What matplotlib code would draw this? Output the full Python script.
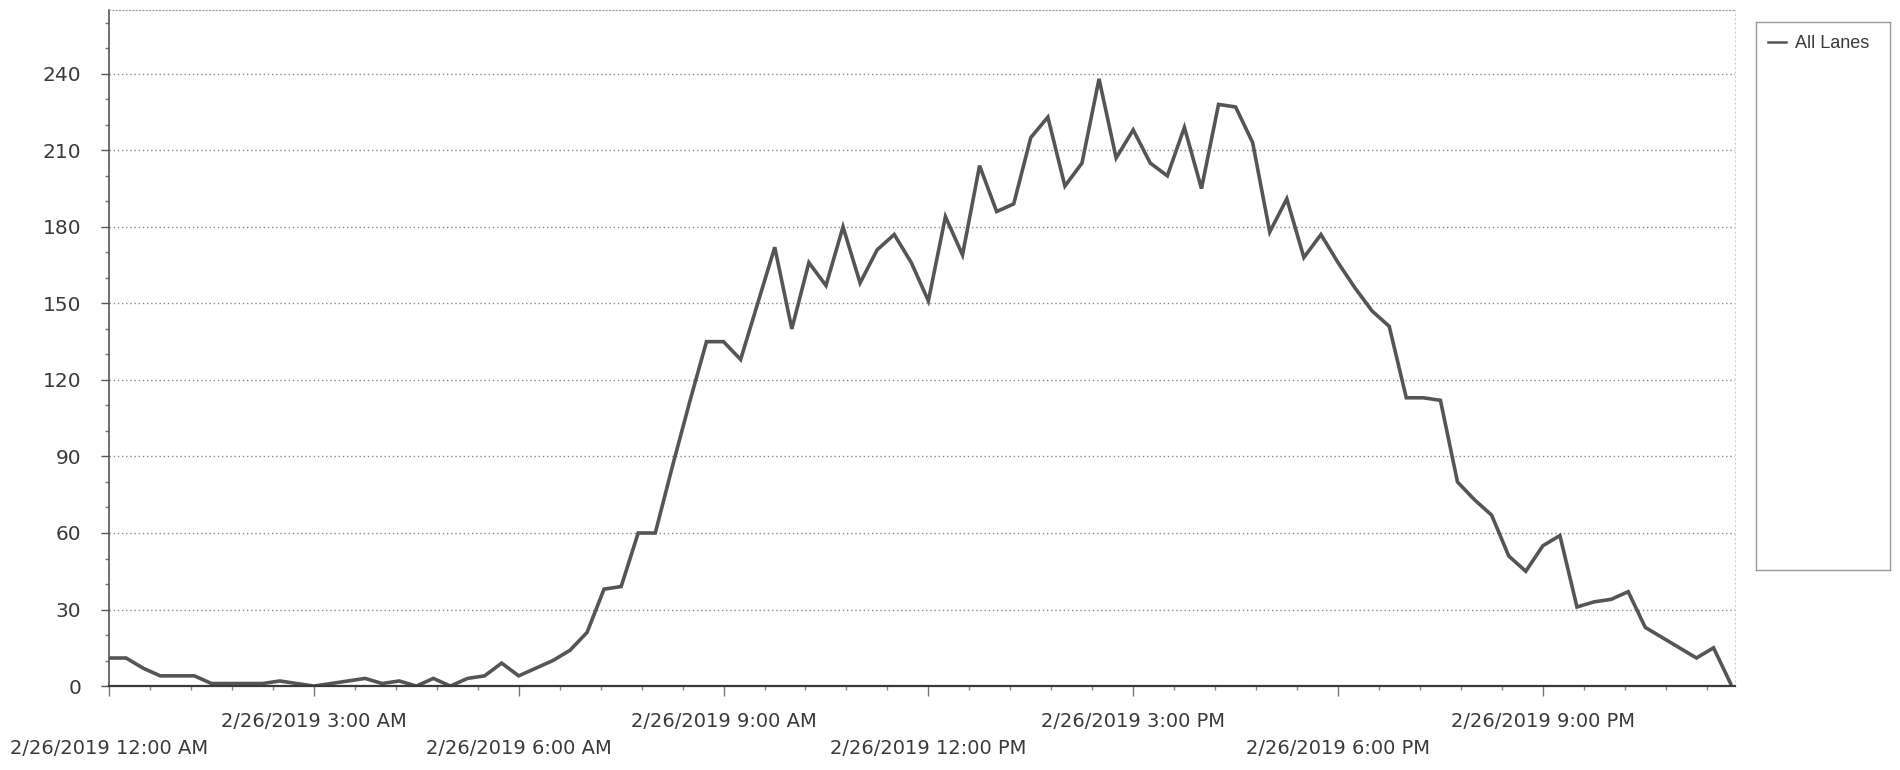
import numpy as np
import matplotlib.pyplot as plt
from matplotlib.ticker import MultipleLocator, FixedLocator, FixedFormatter

##15 minute volumes, 2/26/2019 12:00 AM -> 11:45 PM
volume = [11, 11, 7, 4, 4, 4, 1, 1, 1, 1, 2, 1,
          0, 1, 2, 3, 1, 2, 0, 3, 0, 3, 4, 9,
          4, 7, 10, 14, 21, 38, 39, 60, 60, 86, 111, 135,
          135, 128, 150, 172, 140, 166, 157, 180, 158, 171, 177, 166,
          151, 184, 169, 204, 186, 189, 215, 223, 196, 205, 238, 207,
          218, 205, 200, 219, 195, 228, 227, 213, 178, 191, 168, 177,
          166, 156, 147, 141, 113, 113, 112, 80, 73, 67, 51, 45,
          55, 59, 31, 33, 34, 37, 23, 19, 15, 11, 15, 1]
series_name = 'All Lanes'

tick_hours = [0, 3, 6, 9, 12, 15, 18, 21]
tick_labels = ['2/26/2019 12:00 AM', '2/26/2019 3:00 AM', '2/26/2019 6:00 AM',
               '2/26/2019 9:00 AM', '2/26/2019 12:00 PM', '2/26/2019 3:00 PM',
               '2/26/2019 6:00 PM', '2/26/2019 9:00 PM']
y_ticks = [0, 30, 60, 90, 120, 150, 180, 210, 240]

##hours since midnight for each 15 minute bin
hours = np.arange(len(volume)) * 0.25

line_col = '#555555'
text_col = '#3a3a3a'

fig = plt.figure(figsize=(19, 7.7), dpi=100)
ax = fig.add_axes([0.0574, 0.109, 0.8556, 0.878])

#########################
###Volume line plot   ###
#########################
ln, = ax.plot(hours, volume, color=line_col, lw=2.6, label=series_name,
              solid_joinstyle='miter')

ax.set_xlim(0, 23.81)
ax.set_ylim(0, 265)

ax.yaxis.set_major_locator(FixedLocator(y_ticks))
ax.yaxis.set_minor_locator(MultipleLocator(10))
ax.xaxis.set_major_locator(FixedLocator(tick_hours))
ax.xaxis.set_major_formatter(FixedFormatter(tick_labels))
ax.xaxis.set_minor_locator(MultipleLocator(0.6))

ax.grid(axis='y', which='major', linestyle=(0, (1, 2)), color='#8a8a8a', lw=1.0)
ax.set_axisbelow(True)

ax.tick_params(axis='y', which='major', length=6, width=1, color='#555555',
               labelsize=14.5, labelcolor=text_col, pad=14, direction='out')
ax.tick_params(axis='y', which='minor', length=3, width=1, color='#777777',
               direction='out')
ax.tick_params(axis='x', which='major', length=7, width=1, color='#777777',
               labelsize=14, labelcolor=text_col, direction='out')
ax.tick_params(axis='x', which='minor', length=3, width=1, color='#888888',
               direction='out')

##stagger the date labels in two rows
for i, t in enumerate(ax.xaxis.get_major_ticks()):
    if i % 2 == 0:
        t.set_pad(31)
    else:
        t.set_pad(12)

ax.spines['left'].set_linestyle((0, (2, 1)))
ax.spines['left'].set_color('#555555')
ax.spines['left'].set_linewidth(1.2)
ax.spines['bottom'].set_color('#3a3a3a')
ax.spines['bottom'].set_linewidth(1.6)
ax.spines['top'].set_linestyle((0, (1, 2)))
ax.spines['top'].set_color('#9a9a9a')
ax.spines['right'].set_linestyle((0, (1, 3)))
ax.spines['right'].set_color('#d0d0d0')

#########################
###Legend box         ###
#########################
lax = fig.add_axes([0.924, 0.26, 0.0705, 0.711])
lax.set_xticks([])
lax.set_yticks([])
for s in lax.spines.values():
    s.set_linestyle((0, (1, 1)))
    s.set_color('#9a9a9a')
    s.set_linewidth(1.0)
leg = lax.legend(handles=[ln], loc='upper left', frameon=False,
                 handlelength=1.0, handletextpad=0.5, borderaxespad=0.3,
                 prop={'family': 'Liberation Sans', 'size': 13})
leg.get_lines()[0].set_linewidth(1.8)
for txt in leg.get_texts():
    txt.set_color(text_col)

plt.savefig('out.png', dpi=100)
